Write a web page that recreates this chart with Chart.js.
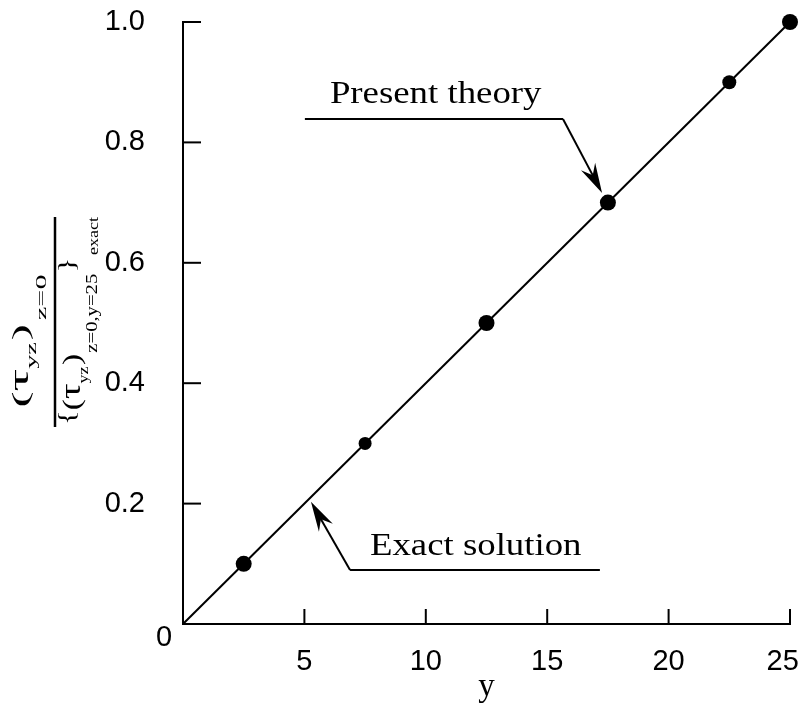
<!DOCTYPE html>
<html>
<head>
<meta charset="utf-8">
<title>Shear stress ratio</title>
<script src="https://cdn.jsdelivr.net/npm/chart.js@4.4.1/dist/chart.umd.min.js"></script>
<style>
  html, body { margin: 0; padding: 0; background: #fff; }
  #wrap { width: 804px; height: 704px; }
</style>
</head>
<body>
<div id="wrap"><canvas id="grafica" width="804" height="704"></canvas></div>
<script>
// datos
const yPos = [2.5, 7.5, 12.5, 17.5, 22.5, 25];
const presentTheory = [0.1, 0.3, 0.5, 0.7, 0.9, 1.0];
const exactY = [0, 25];
const exactRatio = [0, 1];
const xTickLabels = ['5', '10', '15', '20', '25'];
const yTickLabels = ['0.2', '0.4', '0.6', '0.8', '1.0'];
const originLabel = '0';

const SERIF = '"Liberation Serif", "Times New Roman", serif';
const SANS = '"Liberation Sans", Arial, sans-serif';

// notas con flecha, en coordenadas de los ejes
const notas = [
  { text: 'Present theory', at: [6.05, 0.865], leader: [[5.02, 0.839], [15.65, 0.839]], tip: [17.26, 0.716] },
  { text: 'Exact solution', at: [7.7, 0.1146], leader: [[17.17, 0.0897], [6.88, 0.0897]], tip: [5.27, 0.203] }
];

function flecha(ctx, x0, y0, x1, y1) {
  const ang = Math.atan2(y1 - y0, x1 - x0);
  const len = 30, half = 8, notch = 10;
  ctx.beginPath();
  ctx.moveTo(x0, y0);
  ctx.lineTo(x1 - Math.cos(ang) * notch, y1 - Math.sin(ang) * notch);
  ctx.stroke();
  ctx.save();
  ctx.translate(x1, y1);
  ctx.rotate(ang);
  ctx.beginPath();
  ctx.moveTo(0, 0);
  ctx.lineTo(-len, -half);
  ctx.lineTo(-len + notch, 0);
  ctx.lineTo(-len, half);
  ctx.closePath();
  ctx.fill();
  ctx.restore();
}

// texto girado con subindices
function textoVertical(ctx, runs, baseX, centerY, largo) {
  let total = 0;
  runs.forEach(r => {
    ctx.font = r.size + 'px ' + SERIF;
    r.w = ctx.measureText(r.text).width;
    total += r.w + (r.gap || 0);
  });
  const sx = largo / total;
  ctx.save();
  ctx.translate(baseX, centerY);
  ctx.rotate(-Math.PI / 2);
  ctx.scale(sx, 1);
  ctx.textBaseline = 'alphabetic';
  ctx.textAlign = 'left';
  let pos = -total / 2;
  runs.forEach(r => {
    ctx.font = r.size + 'px ' + SERIF;
    pos += (r.gap || 0);
    ctx.fillText(r.text, pos, r.dy || 0);
    pos += r.w;
  });
  ctx.restore();
}

const extras = {
  id: 'extras',
  beforeDraw(chart) {
    const ctx = chart.ctx;
    ctx.save();
    ctx.fillStyle = '#fff';
    ctx.fillRect(0, 0, chart.width, chart.height);
    ctx.restore();
  },
  afterDraw(chart) {
    const { ctx, chartArea, scales } = chart;
    const xs = scales.x, ys = scales.y;
    ctx.save();
    ctx.strokeStyle = '#000';
    ctx.fillStyle = '#000';
    ctx.lineWidth = 2;

    // marcas hacia dentro
    xs.ticks.forEach(t => {
      if (t.value <= 0) return;
      const px = xs.getPixelForValue(t.value);
      ctx.beginPath();
      ctx.moveTo(px, chartArea.bottom);
      ctx.lineTo(px, chartArea.bottom - 15);
      ctx.stroke();
    });
    ys.ticks.forEach(t => {
      if (t.value <= 0) return;
      const py = ys.getPixelForValue(t.value);
      ctx.beginPath();
      ctx.moveTo(chartArea.left, py);
      ctx.lineTo(chartArea.left + 18, py);
      ctx.stroke();
    });

    // cero en la esquina
    ctx.font = '29px ' + SANS;
    ctx.textAlign = 'center';
    ctx.textBaseline = 'middle';
    ctx.fillText(originLabel, chartArea.left - 19, chartArea.bottom + 14);

    // notas
    notas.forEach(n => {
      ctx.lineWidth = 2;
      ctx.beginPath();
      ctx.moveTo(xs.getPixelForValue(n.leader[0][0]), ys.getPixelForValue(n.leader[0][1]));
      ctx.lineTo(xs.getPixelForValue(n.leader[1][0]), ys.getPixelForValue(n.leader[1][1]));
      ctx.stroke();
      flecha(ctx,
        xs.getPixelForValue(n.leader[1][0]), ys.getPixelForValue(n.leader[1][1]),
        xs.getPixelForValue(n.tip[0]), ys.getPixelForValue(n.tip[1]));
      ctx.save();
      ctx.translate(xs.getPixelForValue(n.at[0]), ys.getPixelForValue(n.at[1]));
      ctx.scale(1.15, 1);
      ctx.font = '32px ' + SERIF;
      ctx.textAlign = 'left';
      ctx.textBaseline = 'alphabetic';
      ctx.fillText(n.text, 0, 0);
      ctx.restore();
    });

    // titulo del eje vertical (fraccion)
    const midY = (chartArea.top + chartArea.bottom) / 2;
    ctx.lineWidth = 2.5;
    ctx.beginPath();
    ctx.moveTo(55, midY - 106);
    ctx.lineTo(55, midY + 104);
    ctx.stroke();
    textoVertical(ctx, [
      { text: '(', size: 24 },
      { text: 'τ', size: 28 },
      { text: 'yz', size: 14, dy: 8 },
      { text: ')', size: 24, gap: 1 },
      { text: 'z=0', size: 15, dy: 18, gap: 2 }
    ], 28, midY + 18, 133);
    textoVertical(ctx, [
      { text: '{', size: 24, dy: -6 },
      { text: '(', size: 26 },
      { text: 'τ', size: 30 },
      { text: 'yz', size: 14, dy: 8 },
      { text: ')', size: 26, gap: 1 },
      { text: 'z=0,y=25', size: 16, dy: 17, gap: 1 },
      { text: '}', size: 24, dy: -6, gap: 1 },
      { text: 'exact', size: 14, dy: 18, gap: 2 }
    ], 80, midY - 2, 208);
    ctx.restore();
  }
};

// sin margen extra por las etiquetas de los extremos
function sinRelleno(s) {
  s.paddingLeft = 0;
  s.paddingRight = 0;
  s.paddingTop = 0;
  s.paddingBottom = 0;
}

const ctx = document.getElementById('grafica');
const chart = new Chart(ctx, {
  type: 'scatter',
  data: {
    datasets: [{
      label: 'Exact solution',
      type: 'line',
      data: exactY.map((v, i) => ({ x: v, y: exactRatio[i] })),
      borderColor: '#000',
      borderWidth: 2,
      pointRadius: 0,
      fill: false,
      order: 2
    }, {
      label: 'Present theory',
      data: yPos.map((v, i) => ({ x: v, y: presentTheory[i] })),
      backgroundColor: '#000',
      borderColor: '#000',
      pointRadius: [8, 6.5, 8, 8, 7, 8],
      pointBorderWidth: 0,
      clip: false,
      order: 1
    }]
  },
  options: {
    responsive: false,
    animation: false,
    layout: { autoPadding: false, padding: { top: 22, right: 14, left: 0, bottom: 0 } },
    plugins: { legend: { display: false }, tooltip: { enabled: false } },
    scales: {
      x: {
        type: 'linear',
        min: 0,
        max: 25,
        grid: { display: false },
        border: { display: true, color: '#000', width: 2 },
        ticks: {
          stepSize: 5,
          padding: 13,
          color: '#000',
          font: { family: SANS, size: 29 },
          // la ultima etiqueta se corre un poco a la izquierda para que quepa
          callback: v => {
            if (v <= 0) return '';
            const i = v / 5 - 1;
            return i === xTickLabels.length - 1 ? xTickLabels[i] + '\u2002' : xTickLabels[i];
          }
        },
        title: {
          display: true,
          text: 'y',
          color: '#000',
          font: { family: SERIF, size: 33, lineHeight: 1 },
          padding: { top: 0, bottom: 0 }
        },
        afterFit: s => { s.height = 80; sinRelleno(s); }
      },
      y: {
        type: 'linear',
        min: 0,
        max: 1,
        grid: { display: false },
        border: { display: true, color: '#000', width: 2 },
        ticks: {
          stepSize: 0.2,
          padding: 30,
          color: '#000',
          font: { family: SANS, size: 29 },
          callback: v => {
            const i = Math.round(v / 0.2) - 1;
            return i >= 0 ? yTickLabels[i] : '';
          }
        },
        afterFit: s => { s.width = 183; sinRelleno(s); }
      }
    }
  },
  plugins: [extras]
});
</script>
</body>
</html>
